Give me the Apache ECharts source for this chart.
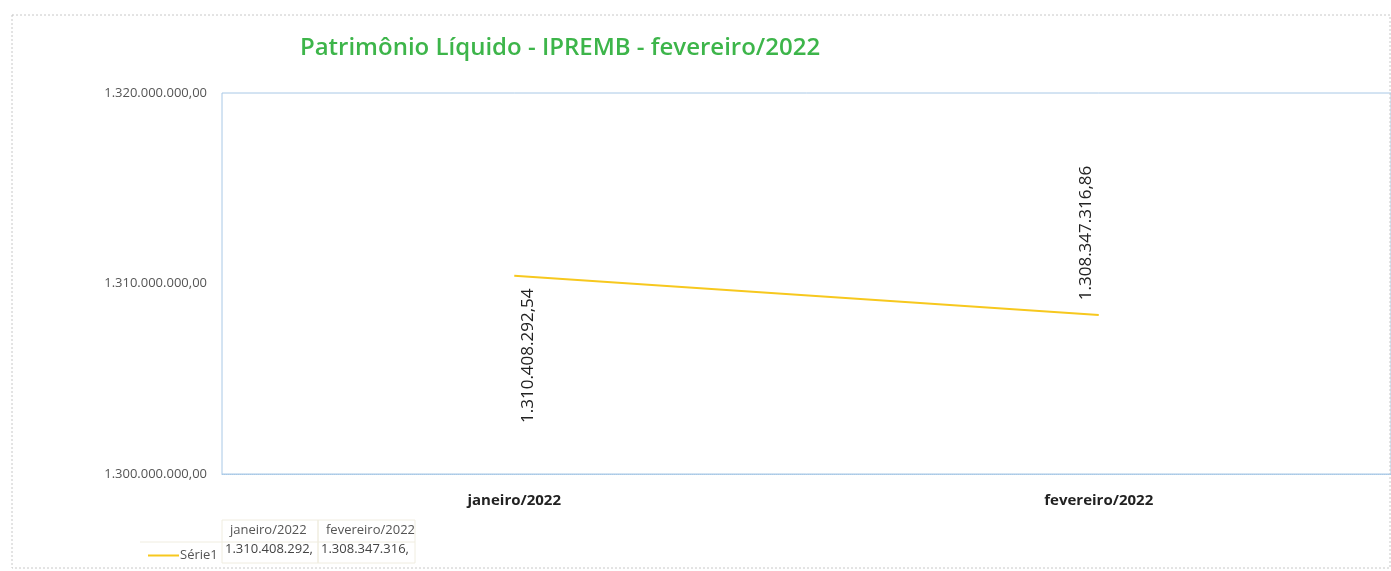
<!DOCTYPE html>
<html><head><meta charset="utf-8">
<script src="https://cdn.jsdelivr.net/npm/echarts@6/dist/echarts.min.js"></script>
<style>html,body{margin:0;padding:0;background:#fff}#c{width:1391px;height:571px}</style>
</head><body><div id="c"></div>
<script>
var categories = ['janeiro/2022', 'fevereiro/2022'];
var serieName = 'Série1';
var values = [1310408292.54, 1308347316.86];
var yTicks = [1300000000, 1310000000, 1320000000];

function fmtBR(v) {
  var s = v.toFixed(2).split('.');
  var i = s[0].replace(/\B(?=(\d{3})+(?!\d))/g, '.');
  return i + ',' + s[1];
}
function fmtTrunc(v) { var f = fmtBR(v); return f.slice(0, f.indexOf(',') + 1); }

var chart = echarts.init(document.getElementById('c'));
var tableGraphics = [];
var colX = [222, 318];
var colW = [96, 97];
categories.forEach(function (c, i) {
  tableGraphics.push({ type: 'text', left: colX[i] + 8, top: 524, style: { text: c, font: '13px "Open Sans"', fill: '#555' } });
  tableGraphics.push({ type: 'text', left: colX[i] + 3, top: 543, style: { text: fmtTrunc(values[i]), font: '13px "Open Sans"', fill: '#444' } });
  tableGraphics.push({ type: 'rect', shape: { x: colX[i], y: 520, width: colW[i], height: 43 }, style: { fill: 'none', stroke: '#f0ede0', lineWidth: 1 } });
});
tableGraphics.push({ type: 'line', shape: { x1: 140, y1: 542, x2: 415, y2: 542 }, style: { stroke: '#f0ede0', lineWidth: 1 } });
tableGraphics.push({ type: 'rect', shape: { x: 12, y: 15, width: 1378, height: 553 }, style: { fill: 'none', stroke: '#c8c8c8', lineWidth: 1, lineDash: [2, 2] } });

chart.setOption({
  animation: false,
  backgroundColor: '#fff',
  title: {
    text: 'Patrimônio Líquido - IPREMB - fevereiro/2022',
    left: 555, top: 31, textAlign: 'center',
    textStyle: { color: '#3db54a', fontSize: 24, fontWeight: 600, fontFamily: 'Open Sans' }
  },
  legend: {
    left: 143, top: 544, icon: 'rect', itemWidth: 31, itemHeight: 2, itemGap: 4,
    textStyle: { color: '#555', fontSize: 13, fontFamily: 'Open Sans', padding: [0, 0, 0, -4] },
    data: [serieName]
  },
  grid: { left: 222, top: 93, width: 1174, height: 381, show: true, borderColor: '#a8c8e6', borderWidth: 1 },
  xAxis: {
    type: 'category', data: categories, boundaryGap: true,
    axisLine: { lineStyle: { color: '#a8c8e6', type: 'dotted' } },
    axisTick: { show: false },
    axisLabel: { color: '#222', fontSize: 15, fontWeight: 'bold', fontFamily: 'Open Sans', margin: 19 }
  },
  yAxis: {
    type: 'value', min: yTicks[0], max: yTicks[yTicks.length - 1], interval: 10000000,
    axisLine: { show: false }, axisTick: { show: false }, splitLine: { show: false },
    axisLabel: { color: '#555', fontSize: 13, fontFamily: 'Open Sans', margin: 15, formatter: fmtBR }
  },
  graphic: tableGraphics,
  series: [{
    name: serieName, type: 'line',
    data: values.map(function (v, i) {
      return {
        value: v,
        label: { position: i === 0 ? [14, 80] : [-13, -82] }
      };
    }),
    symbol: 'circle', symbolSize: 0, showSymbol: true,
    itemStyle: { color: '#f7c81e' },
    lineStyle: { color: '#f7c81e', width: 2 },
    label: {
      show: true, rotate: 90, align: 'center', verticalAlign: 'middle',
      color: '#222', fontSize: 17, fontFamily: 'Open Sans',
      formatter: function (p) { return fmtBR(p.value); }
    }
  }]
});
</script></body></html>
